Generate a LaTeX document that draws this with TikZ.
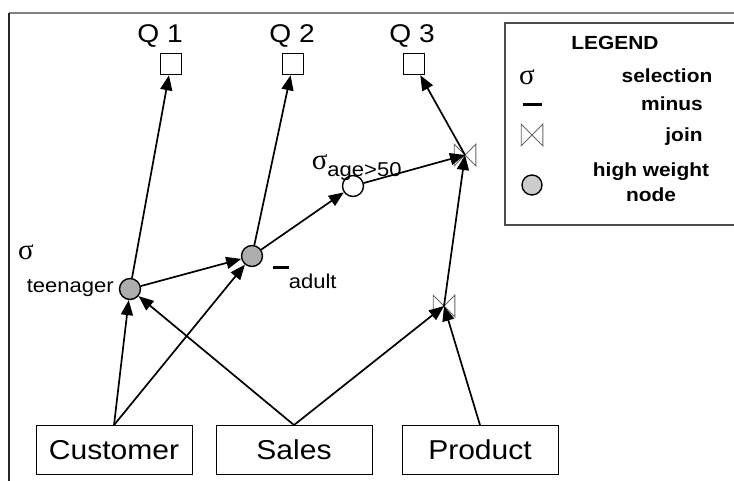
\documentclass[tikz,border=0pt]{standalone}
\usepackage{fontspec}
\setmainfont{Liberation Sans}[FakeStretch=1.1]
\newfontfamily\greekfont{Liberation Serif}
\usetikzlibrary{arrows.meta}

\tikzset{
  relation/.style={draw, line width=0.9pt, minimum width=156pt, minimum height=49pt, font=\fontsize{27.3}{32}\selectfont},
  query/.style={draw, line width=1.5pt, minimum size=21pt},
  weightnode/.style={draw, circle, fill=black!32, line width=1.4pt, minimum size=21pt},
  opnode/.style={draw, circle, fill=white, line width=1.4pt, minimum size=21pt},
  joinop/.style={minimum width=20pt, minimum height=20pt},
  joinline/.style={black!60, line width=0.8pt},
  lbl/.style={font=\fontsize{20}{24}\selectfont},
  legtext/.style={font=\fontsize{19}{25}\selectfont\bfseries},
  sig/.style={font=\fontsize{29}{32}\selectfont\greekfont, anchor=base}
}

\begin{document}
\begin{tikzpicture}[x=1pt, y=-1pt, line width=1.7pt, >={Triangle[length=15pt,width=12pt]},
    every node/.style={inner sep=0pt}]
  \useasboundingbox (0,0) rectangle (734,481);

  % frame
  \draw[black!50, line width=1.2pt] (9,13) -- (734,13);
  \draw[black!85, line width=1.2pt] (9,13) -- (9,481);

  % Queries
  \node[font=\fontsize{25.6}{30}\selectfont, anchor=base] (q1_lbl) at (160,43) {Q 1};
  \node[font=\fontsize{25.6}{30}\selectfont, anchor=base] (q2_lbl) at (292,43) {Q 2};
  \node[font=\fontsize{25.6}{30}\selectfont, anchor=base] (q3_lbl) at (412,43) {Q 3};
  \node[query] (q1) at (171,64) {};
  \node[query] (q2) at (293,64) {};
  \node[query] (q3) at (414,64) {};

  % Operators
  \node[weightnode] (teen) at (130,289) {};
  \node[weightnode] (adult) at (252,256) {};
  \node[opnode] (age) at (353,186) {};
  \node[joinop] (join_top) at (465,155) {};
  \node[joinop] (join_bot) at (444,306) {};
  \foreach \j in {join_top,join_bot}
    \draw[joinline] (\j.north west) -- (\j.south east) -- (\j.north east) -- (\j.south west) -- cycle;

  % Operator labels
  \node[sig] (teen_sig) at (26,260) {σ};
  \node[lbl, anchor=base west] (teen_lbl) at (26,293) {teenager};
  \node[lbl, anchor=base west] (adult_lbl) at (272,288) {\raisebox{19pt}{\rule{16pt}{2.6pt}}adult};
  \node[lbl, anchor=base west] (age_lbl) at (311,170) {{\fontsize{29}{32}\selectfont\greekfont σ}\raisebox{-7pt}{age>50}};

  % Relations
  \node[relation] (customer) at (114,450) {Customer};
  \node[relation] (sales) at (294,450) {Sales};
  \node[relation] (product) at (480,450) {Product};

  % Connections
  \draw[->] (customer.north) -- (teen);
  \draw[->] (customer.north) -- (adult);
  \draw[->] (sales.north) -- (teen);
  \draw[->] (sales.north) -- (join_bot.center);
  \draw[->] (product.north) -- (join_bot.center);
  \draw[->] (teen) -- (adult);
  \draw[->] (teen) -- (q1);
  \draw[->] (adult) -- (q2);
  \draw[->] (adult) -- (age);
  \draw[->] (age) -- (join_top.center);
  \draw[->] (join_bot.center) -- (join_top.center);
  \draw[->] (join_top.center) -- (q3);

  % Legend
  \draw[black!70, line width=1.2pt] (734,23) -- (505,23) -- (505,225) -- (734,225);
  \node[legtext, anchor=base] (leg_title) at (615,50) {LEGEND};
  \node[sig] (leg_sig) at (527,85) {σ};
  \node[legtext, anchor=base] (leg_sel) at (667,83) {selection};
  \node[minimum width=19pt, minimum height=3pt, fill=black] (leg_minus) at (532,105) {};
  \node[legtext, anchor=base] (leg_min) at (672,111) {minus};
  \node[joinop] (leg_join) at (532,135) {};
  \draw[joinline] (leg_join.north west) -- (leg_join.south east) -- (leg_join.north east) -- (leg_join.south west) -- cycle;
  \node[legtext, anchor=base] (leg_jn) at (684,142) {join};
  \node[draw, circle, fill=black!20, line width=1.4pt, minimum size=20pt] (leg_node) at (532,185) {};
  \node[legtext, align=center, anchor=base] (leg_hw) at (651,202) {high weight\\node};
\end{tikzpicture}
\end{document}
